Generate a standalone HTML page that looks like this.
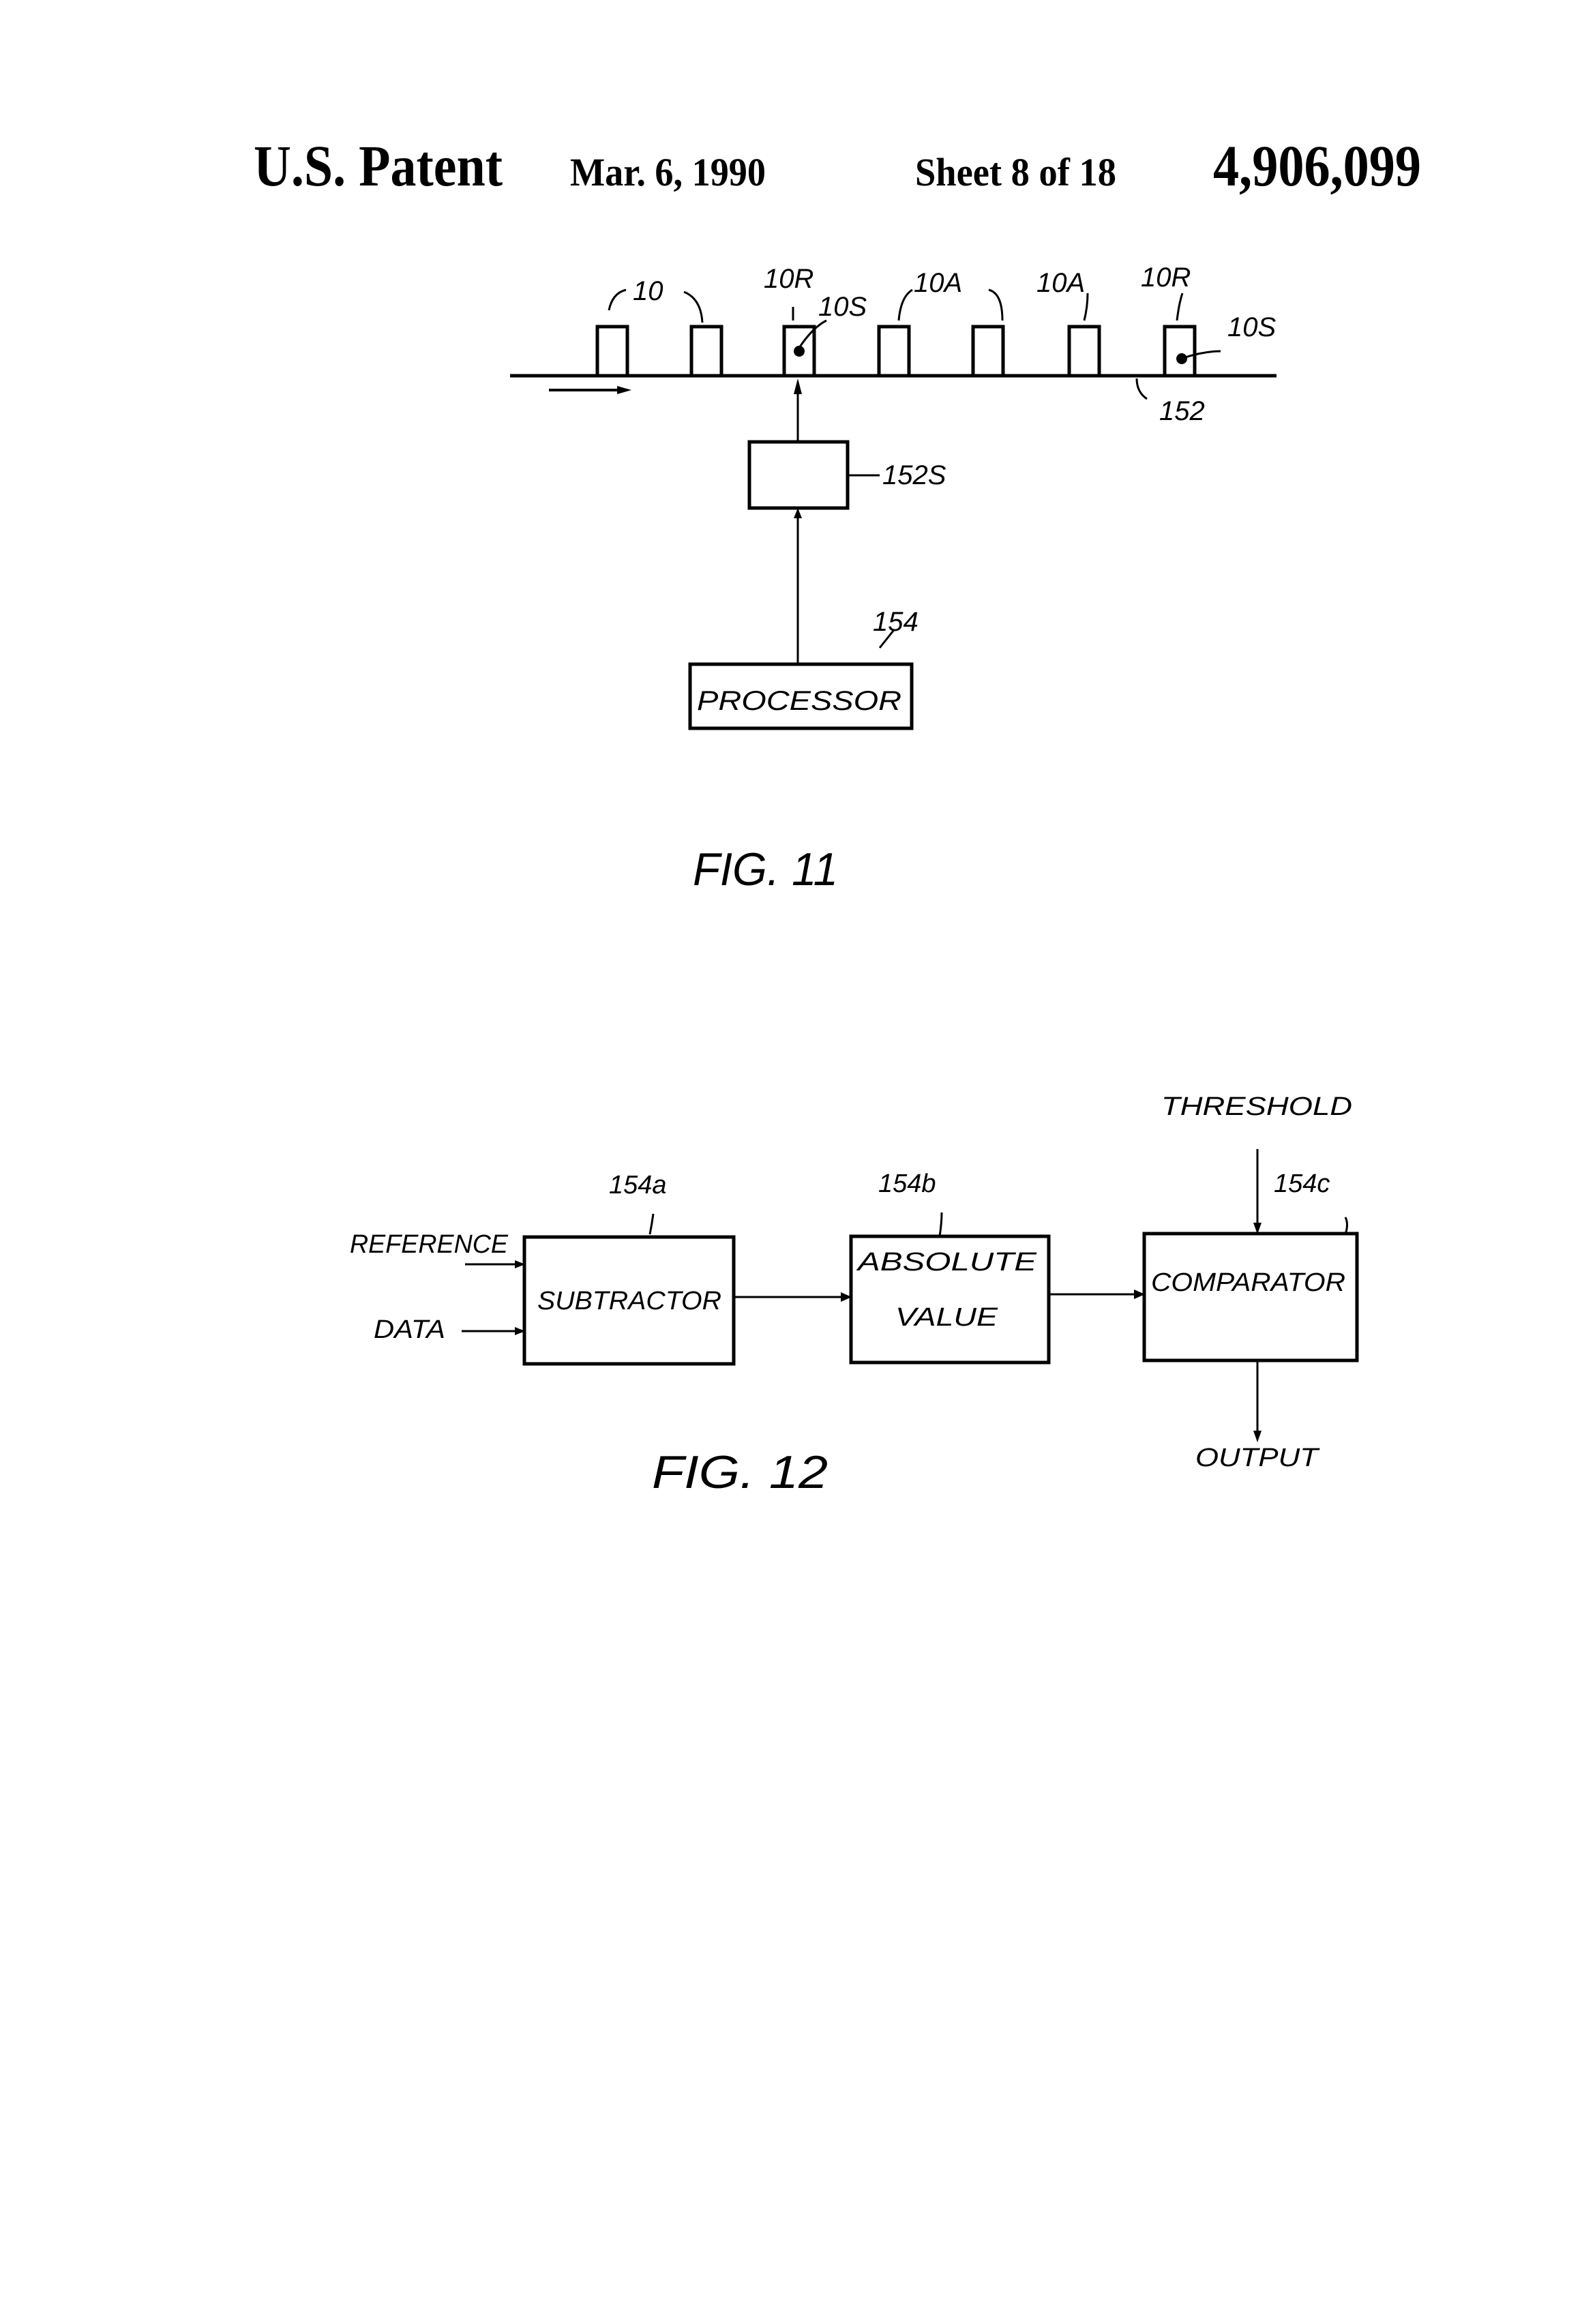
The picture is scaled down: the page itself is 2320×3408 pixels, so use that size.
<!DOCTYPE html>
<html><head><meta charset="utf-8"><style>
html,body{margin:0;padding:0;background:#fff}
svg{display:block}
.h{font-family:"Liberation Serif",serif;font-weight:bold;fill:#000}
.t{font-family:"Liberation Sans",sans-serif;font-style:italic;fill:#000}
</style></head><body>
<svg width="2320" height="3408" viewBox="0 0 2320 3408" xmlns="http://www.w3.org/2000/svg">
<rect width="2320" height="3408" fill="#fff"/>
<text class="h" x="372" y="272" font-size="86" textLength="365" lengthAdjust="spacingAndGlyphs">U.S. Patent</text>
<text class="h" x="836" y="272" font-size="58" textLength="287" lengthAdjust="spacingAndGlyphs">Mar. 6, 1990</text>
<text class="h" x="1342" y="272" font-size="58" textLength="295" lengthAdjust="spacingAndGlyphs">Sheet 8 of 18</text>
<text class="h" x="1779" y="272" font-size="86" textLength="305" lengthAdjust="spacingAndGlyphs">4,906,099</text>

<g stroke="#000" fill="none" stroke-width="5">
<line x1="748" y1="551" x2="1872" y2="551"/>
<rect x="876" y="479" width="44" height="72"/>
<rect x="1014" y="479" width="44" height="72"/>
<rect x="1150" y="479" width="44" height="72"/>
<rect x="1289" y="479" width="44" height="72"/>
<rect x="1427" y="479" width="44" height="72"/>
<rect x="1568" y="479" width="44" height="72"/>
<rect x="1708" y="479" width="44" height="72"/>
<line x1="805" y1="572" x2="905" y2="572" stroke-width="4"/>
<rect x="1099" y="648" width="144" height="97"/>
<rect x="1012" y="974" width="325" height="94"/>
<line x1="1170" y1="974" x2="1170" y2="760" stroke-width="3"/>
<line x1="1170" y1="648" x2="1170" y2="568" stroke-width="3"/>
<line x1="1243" y1="697" x2="1290" y2="697" stroke-width="3"/>
<path d="M893 455 q5 -25 25 -30 M1003 428 q25 10 27 45 M1163 470 v-20 M1172 510 q20 -30 40 -40 M1318 470 q3 -35 20 -45 M1450 425 q20 5 20 45 M1590 470 q5 -20 5 -40 M1726 470 q3 -25 8 -40 M1735 525 q30 -10 55 -10 M1667 555 q0 20 15 30 M1290 950 l20 -25" stroke-width="3"/>
</g>
<g fill="#000">
<polygon points="905,566 926,572 905,578"/>
<polygon points="1164,578 1170,555 1176,578"/>
<polygon points="1164,760 1170,745 1176,760"/>
<circle cx="1172" cy="515" r="8"/>
<circle cx="1733" cy="526" r="8"/>
</g>
<g class="t" font-size="40">
<text x="928" y="440">10</text>
<text x="1120" y="422">10R</text>
<text x="1200" y="463">10S</text>
<text x="1340" y="428">10A</text>
<text x="1520" y="428">10A</text>
<text x="1673" y="420">10R</text>
<text x="1800" y="493">10S</text>
<text x="1700" y="616">152</text>
<text x="1294" y="710">152S</text>
<text x="1280" y="925">154</text>
<text x="1022" y="1041" textLength="300" lengthAdjust="spacingAndGlyphs">PROCESSOR</text>
</g>
<text class="t" x="1016" y="1298" font-size="68" textLength="213" lengthAdjust="spacingAndGlyphs">FIG. 11</text>

<g transform="translate(13,0)">
<g stroke="#000" fill="none" stroke-width="5">
<rect x="756" y="1814" width="307" height="186"/>
<rect x="1235" y="1813" width="290" height="185"/>
<rect x="1665" y="1809" width="312" height="186"/>
<line x1="669" y1="1854" x2="745" y2="1854" stroke-width="3"/>
<line x1="664" y1="1952" x2="745" y2="1952" stroke-width="3"/>
<line x1="1063" y1="1902" x2="1222" y2="1902" stroke-width="3"/>
<line x1="1525" y1="1898" x2="1652" y2="1898" stroke-width="3"/>
<line x1="1831" y1="1685" x2="1831" y2="1795" stroke-width="3"/>
<line x1="1831" y1="1995" x2="1831" y2="2100" stroke-width="3"/>
<path d="M945 1780 q-2 15 -5 30 M1368 1778 q0 15 -3 35 M1960 1785 q5 10 0 25" stroke-width="3"/>
</g>
<g fill="#000">
<polygon points="742,1848 757,1854 742,1860"/>
<polygon points="742,1946 757,1952 742,1958"/>
<polygon points="1220,1895 1236,1902 1220,1909"/>
<polygon points="1650,1891 1666,1898 1650,1905"/>
<polygon points="1825,1793 1831,1810 1837,1793"/>
<polygon points="1825,2098 1831,2115 1837,2098"/>
</g>
<g class="t" font-size="38">
<text x="500" y="1837" textLength="232" lengthAdjust="spacingAndGlyphs">REFERENCE</text>
<text x="535" y="1962" textLength="105" lengthAdjust="spacingAndGlyphs">DATA</text>
<text x="775" y="1920" textLength="270" lengthAdjust="spacingAndGlyphs">SUBTRACTOR</text>
<text x="1245" y="1863" textLength="262" lengthAdjust="spacingAndGlyphs">ABSOLUTE</text>
<text x="1300" y="1944" textLength="150" lengthAdjust="spacingAndGlyphs">VALUE</text>
<text x="1675" y="1893" textLength="285" lengthAdjust="spacingAndGlyphs">COMPARATOR</text>
<text x="1690" y="1635" textLength="280" lengthAdjust="spacingAndGlyphs">THRESHOLD</text>
<text x="1740" y="2150" textLength="180" lengthAdjust="spacingAndGlyphs">OUTPUT</text>
<text x="880" y="1750">154a</text>
<text x="1275" y="1748">154b</text>
<text x="1855" y="1748">154c</text>
</g>
</g>
<text class="t" x="956" y="2182" font-size="68" textLength="258" lengthAdjust="spacingAndGlyphs">FIG. 12</text>
</svg>
</body></html>
